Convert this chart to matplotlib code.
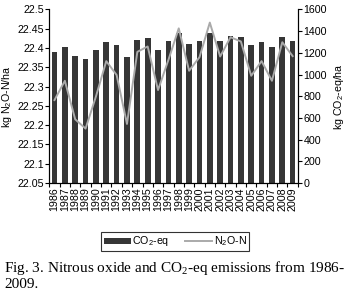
import matplotlib
matplotlib.use('Agg')
import matplotlib.pyplot as plt
import numpy as np
from matplotlib.patches import Patch
from matplotlib.lines import Line2D

years = [str(y) for y in range(1986, 2010)]
co2_eq = [1211, 1252, 1169, 1147, 1227, 1301, 1273, 1160, 1322, 1335, 1227, 1313,
          1381, 1285, 1313, 1387, 1313, 1356, 1344, 1273, 1301, 1252, 1344, 1313]
n2o_n = [22.265, 22.315, 22.215, 22.191, 22.274, 22.366, 22.330, 22.203, 22.390, 22.404,
         22.291, 22.369, 22.451, 22.341, 22.376, 22.466, 22.378, 22.428, 22.417, 22.328,
         22.366, 22.315, 22.415, 22.379]

plt.rcParams['font.family'] = ['Liberation Sans', 'DejaVu Sans']
fs = 7.7

fig = plt.figure(figsize=(3.51, 2.96), dpi=100)
ax = fig.add_axes([0.1405, 0.382, 0.708, 0.586])
ax2 = ax.twinx()
x = np.arange(len(years))

# bars on the right (CO2-eq) axis, line on the left axis drawn on top
ax2.bar(x, co2_eq, width=0.55, color='#363636')
ax.plot(x, n2o_n, color='#aaaaaa', lw=1.4)
ax.set_zorder(ax2.get_zorder() + 1)
ax.patch.set_visible(False)

ax.set_xlim(-0.5, len(years) - 0.5)
ax.set_ylim(22.05, 22.5)
ax.set_yticks(np.arange(22.05, 22.501, 0.05))
ax.set_yticklabels(['22.05', '22.1', '22.15', '22.2', '22.25', '22.3', '22.35', '22.4', '22.45', '22.5'])
ax2.set_ylim(0, 1600)
ax2.set_yticks(range(0, 1601, 200))

ax.set_xticks(x)
ax.set_xticklabels(years, rotation=90, fontsize=fs)
ax.set_xticks(np.arange(-0.5, len(years), 1), minor=True)
ax.tick_params(axis='x', which='major', length=0, pad=3)
ax.tick_params(axis='x', which='minor', length=3, width=0.8)
ax.tick_params(axis='y', labelsize=fs, length=3, width=0.8, pad=1)
ax2.tick_params(axis='y', labelsize=fs, length=3, width=0.8, pad=1)

for a in (ax, ax2):
    a.spines['top'].set_visible(False)
    for s in a.spines.values():
        s.set_linewidth(0.8)

ax.set_ylabel('kg N$\\mathregular{_2}$O-N/ha', fontsize=fs, labelpad=2)
ax2.set_ylabel('kg CO$\\mathregular{_2}$-eq/ha', fontsize=fs, labelpad=4)

handles = [Patch(facecolor='#363636', edgecolor='none'),
           Line2D([], [], color='#aaaaaa', lw=1.4)]
leg = fig.legend(handles, ['CO$\\mathregular{_2}$-eq', 'N$\\mathregular{_2}$O-N'],
                 loc='center', bbox_to_anchor=(175 / 351, 1 - 241.5 / 296), ncol=2,
                 fontsize=fs, frameon=True, fancybox=False, edgecolor='black',
                 handlelength=2.6, handleheight=0.5, handletextpad=0.1,
                 columnspacing=1.4, borderpad=0.2)
leg.get_frame().set_linewidth(0.8)

fig.text(0.012, 1 - 275 / 296, 'Fig. 3. Nitrous oxide and CO$\\mathregular{_2}$-eq emissions from 1986-\n2009.',
         family='Liberation Serif', fontsize=11, va='center', ha='left', linespacing=1.1)

fig.savefig('out.png', dpi=100)
